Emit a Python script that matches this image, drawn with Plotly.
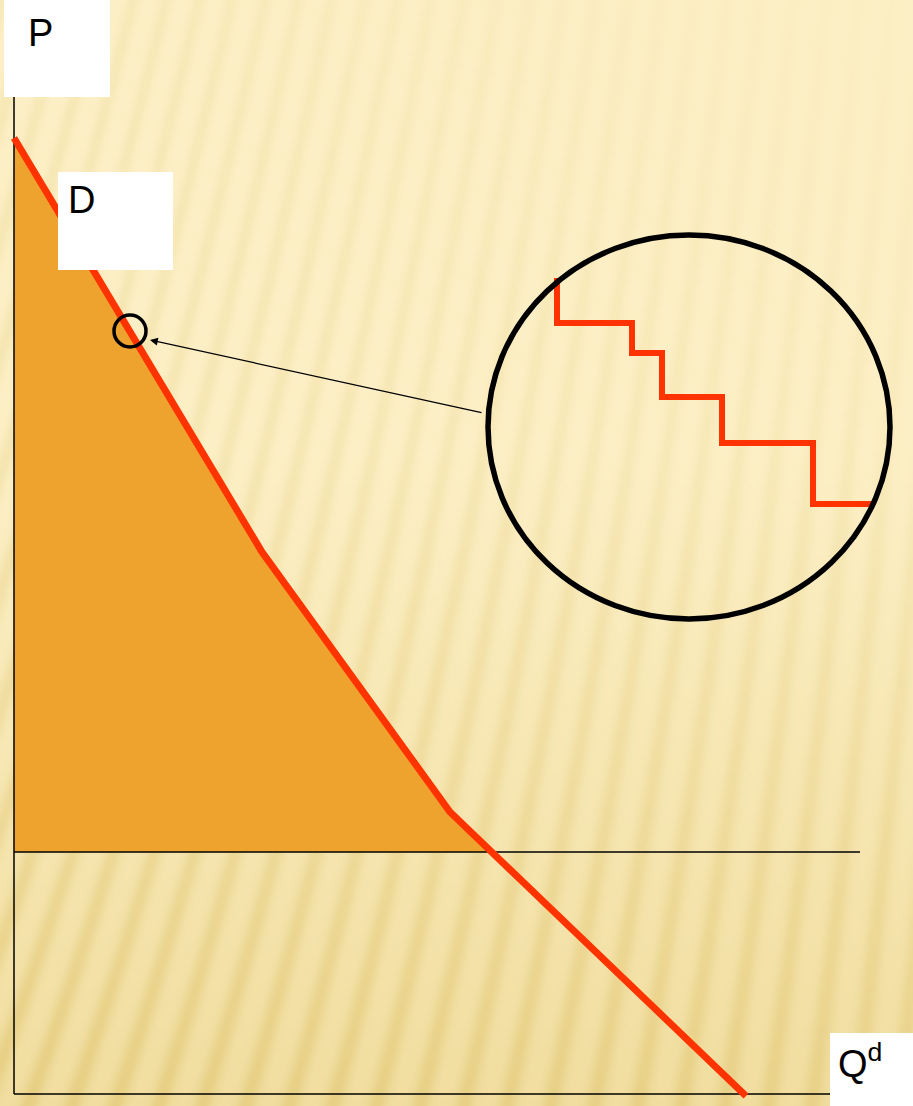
import base64
import struct
import zlib

import numpy as np
import plotly.graph_objects as go

# demand curve (Q, P) in chart units, origin at the axis corner
demand_q = [0, 248, 436, 732]
demand_p = [956, 542, 282, -2]

# market price line
price = 242
price_line_end = 846

# zoomed-in staircase inside the big circle
stair_q = [543, 618, 648, 708, 799, 860]
stair_p = [816, 771, 741, 697, 651, 590]

# axis extents
p_axis_top = 999
q_axis_end = 830

label_p = "P"
label_d = "D"
label_q = "Q<sup>d</sup>"

W, H = 913, 1106


def png_data_uri(arr):
    h, w, _ = arr.shape
    raw = b"".join(b"\x00" + arr[i].tobytes() for i in range(h))

    def chunk(tag, data):
        c = struct.pack(">I", len(data)) + tag + data
        return c + struct.pack(">I", zlib.crc32(tag + data) & 0xffffffff)

    png = b"\x89PNG\r\n\x1a\n"
    png += chunk(b"IHDR", struct.pack(">IIBBBBB", w, h, 8, 2, 0, 0, 0))
    png += chunk(b"IDAT", zlib.compress(raw, 9))
    png += chunk(b"IEND", b"")
    return "data:image/png;base64," + base64.b64encode(png).decode()


# striped cream background (slide template look)
sw, sh = W // 2, H // 2
yy, xx = np.mgrid[0:sh, 0:sw].astype(float)
xx *= W / sw
yy *= H / sh
t = np.clip((yy - 450) / 650, 0, 1)[..., None]
light = np.array([253, 240, 198], float)
dark = np.array([241, 222, 160], float)
base = light * (1 - t) + dark * t
k = 0.28 - 0.2 * (xx / W)
phase = (xx + k * yy) / 33.0
s = (0.5 + 0.5 * np.cos(2 * np.pi * phase)) ** 2
amp = 0.05 + 0.6 * (yy / H) + 0.35 * (1 - xx / W) * (1 - 0.6 * yy / H)
amp = np.clip(amp, 0, 1)
bg = base - (s * amp)[..., None] * np.array([12, 18, 36], float)
bg = np.clip(bg, 0, 255).astype(np.uint8)
bg_uri = png_data_uri(bg)

# consumer surplus area: under demand, above price
q_cross = float(np.interp(price, demand_p[::-1], demand_q[::-1]))
area_q = [q for q, p in zip(demand_q, demand_p) if p > price] + [q_cross, 0, 0]
area_p = [p for p in demand_p if p > price] + [price, price, demand_p[0]]

fig = go.Figure()

fig.add_trace(go.Scatter(x=area_q, y=area_p, mode="lines", fill="toself",
                         fillcolor="#EEA32E", line=dict(width=0),
                         hoverinfo="skip"))

# axes and price line
fig.add_trace(go.Scatter(x=[0, 0], y=[0, p_axis_top], mode="lines",
                         line=dict(color="black", width=1.5)))
fig.add_trace(go.Scatter(x=[0, q_axis_end], y=[0, 0], mode="lines",
                         line=dict(color="black", width=1.5)))
fig.add_trace(go.Scatter(x=[0, price_line_end], y=[price, price], mode="lines",
                         line=dict(color="black", width=1.5)))

fig.add_trace(go.Scatter(x=demand_q, y=demand_p, mode="lines",
                         line=dict(color="#FF3300", width=7)))

fig.add_trace(go.Scatter(x=stair_q, y=stair_p, mode="lines",
                         line=dict(color="#FF3300", width=6, shape="vh")))

# magnifier circles
fig.add_shape(type="circle", x0=100, x1=132, y0=747, y1=779,
              line=dict(color="black", width=3.5))
fig.add_shape(type="circle", x0=474, x1=876, y0=475, y1=859,
              line=dict(color="black", width=5.5))

fig.add_annotation(x=136, y=754, ax=469, ay=681, axref="x", ayref="y",
                   xref="x", yref="y", text="", showarrow=True,
                   arrowhead=2, arrowsize=1.3, arrowwidth=1.2, arrowcolor="black")

# white label boxes
for x0, x1, y0, y1 in [(-10, 96, 997, 1100), (44, 159, 824, 922), (816, 905, -20, 61)]:
    fig.add_shape(type="rect", x0=x0, x1=x1, y0=y0, y1=y1,
                  fillcolor="white", line=dict(width=0), layer="above")

font = dict(family="Liberation Sans, Arial", size=38, color="black")
fig.add_annotation(x=12, y=1061, text=label_p, showarrow=False, xanchor="left", font=font)
fig.add_annotation(x=52, y=894, text=label_d, showarrow=False, xanchor="left", font=font)
fig.add_annotation(x=822, y=33, text=label_q, showarrow=False, xanchor="left", font=font)

fig.update_layout(
    width=W, height=H,
    margin=dict(l=0, r=0, t=0, b=0),
    showlegend=False,
    paper_bgcolor="#FBEEC4",
    plot_bgcolor="rgba(0,0,0,0)",
    xaxis=dict(range=[-14, W - 14], visible=False, fixedrange=True),
    yaxis=dict(range=[-12, H - 12], visible=False, fixedrange=True),
    images=[dict(source=bg_uri, xref="paper", yref="paper", x=0, y=1,
                 sizex=1, sizey=1, sizing="stretch", layer="below")],
)

fig.write_html("out.html", config={"displayModeBar": False},
               post_script="document.body.style.margin='0';")
